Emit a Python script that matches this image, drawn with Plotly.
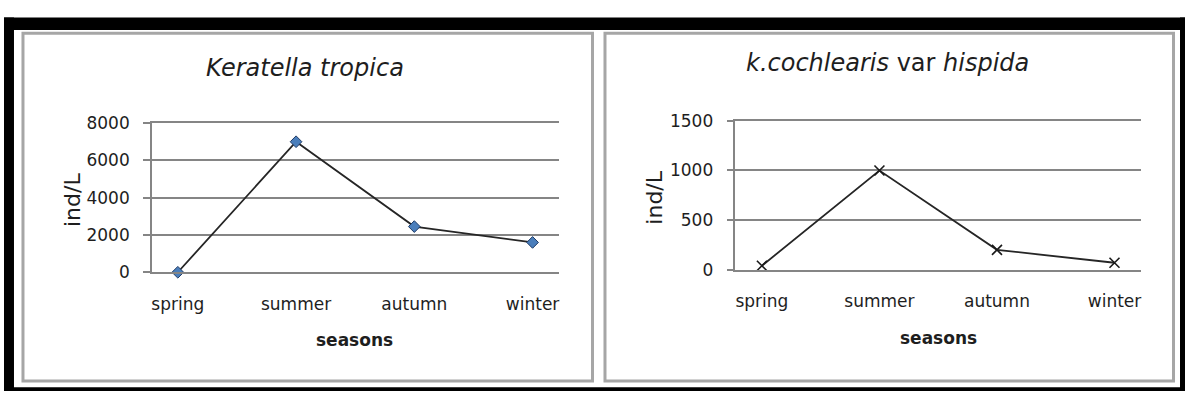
import plotly.graph_objects as go

# Seasonal densities (individuals per litre)
seasons = ["spring", "summer", "autumn", "winter"]
tropica = [0, 7000, 2450, 1600]
hispida = [40, 1000, 200, 70]

y1_ticks = [0, 2000, 4000, 6000, 8000]
y2_ticks = [0, 500, 1000, 1500]

W, H = 1186, 402
FONT = "DejaVu Sans"
TXT = "#1e1e1e"
GRID = "#858585"


def px(x):
    return x / W


def py(y):
    return 1 - y / H


fig = go.Figure()

fig.add_trace(go.Scatter(
    x=seasons, y=tropica, mode="lines+markers",
    line=dict(color="#262626", width=1.8),
    marker=dict(symbol="diamond", size=9, color="#4a7ebb",
                line=dict(color="#1f3b66", width=1)),
    xaxis="x", yaxis="y", showlegend=False, cliponaxis=False))

fig.add_trace(go.Scatter(
    x=seasons, y=hispida, mode="lines+markers",
    line=dict(color="#262626", width=1.8),
    marker=dict(symbol="x-thin", size=10, color="#1a1a1a",
                line=dict(color="#1a1a1a", width=1.6)),
    xaxis="x2", yaxis="y2", showlegend=False, cliponaxis=False))

tick_font = dict(family=FONT, size=17, color=TXT)

# Category axes: the bottom line is the zero gridline, the mirrored top line
# is the top gridline
xcommon = dict(type="category", showgrid=False, showline=True, mirror=True,
               linecolor=GRID, linewidth=1.8, ticks="",
               tickfont=tick_font, ticklabelstandoff=15, zeroline=False,
               fixedrange=True)
ycommon = dict(showgrid=True, gridcolor=GRID, gridwidth=1.8,
               showline=True, linecolor=GRID, linewidth=1.5,
               ticks="outside", ticklen=7, tickcolor=GRID, tickwidth=1.8,
               tickfont=tick_font, ticklabelstandoff=10, zeroline=False,
               fixedrange=True)

fig.update_layout(
    width=W, height=H, autosize=False,
    margin=dict(l=0, r=0, t=0, b=0),
    paper_bgcolor="white", plot_bgcolor="white",
    xaxis=dict(domain=[px(152), px(559)], anchor="y", **xcommon),
    yaxis=dict(domain=[py(276), py(119)], anchor="x", range=[0, 8000],
               tickvals=y1_ticks, **ycommon),
    xaxis2=dict(domain=[px(736), px(1142)], anchor="y2", **xcommon),
    yaxis2=dict(domain=[py(273.3), py(116.7)], anchor="x2", range=[0, 1500],
                tickvals=y2_ticks, **ycommon),
)

shapes = []
# Outer black border
for x0, y0, x1, y1 in ((4, 8, 1186, 21), (4, 8, 14, 401),
                       (4, 397, 1186, 401), (1181, 8, 1186, 401)):
    shapes.append(dict(type="rect", xref="paper", yref="paper",
                       x0=px(x0), x1=px(x1), y0=py(y0), y1=py(y1),
                       fillcolor="black", line=dict(width=0), layer="above"))
# Panel frames
for x0, x1 in ((23, 593), (605.5, 1174.5)):
    shapes.append(dict(type="rect", xref="paper", yref="paper",
                       x0=px(x0), x1=px(x1), y0=py(24.5), y1=py(390.5),
                       line=dict(color="#a6a6a6", width=3),
                       fillcolor="rgba(0,0,0,0)", layer="above"))
fig.update_layout(shapes=shapes)

ann = []
ann.append(dict(text="<i>Keratella tropica</i>", x=px(305), y=py(61)))
ann.append(dict(text="<i>k.cochlearis</i> var <i>hispida</i>", x=px(888), y=py(56)))
for a in ann:
    a.update(xref="paper", yref="paper", showarrow=False, xanchor="center",
             yanchor="middle", font=dict(family=FONT, size=24, color=TXT))

for x, y in ((355, 347), (939, 345)):
    ann.append(dict(text="seasons", x=px(x), y=py(y), xref="paper", yref="paper",
                    showarrow=False, xanchor="center", yanchor="middle",
                    font=dict(family=FONT, size=17, color=TXT, weight="bold")))
for x, y in ((72, 200), (655, 197)):
    ann.append(dict(text="ind/L", x=px(x), y=py(y), xref="paper", yref="paper",
                    showarrow=False, xanchor="center", yanchor="middle",
                    textangle=-90, font=dict(family=FONT, size=22, color=TXT)))
fig.update_layout(annotations=ann)

fig.write_html("out.html")
